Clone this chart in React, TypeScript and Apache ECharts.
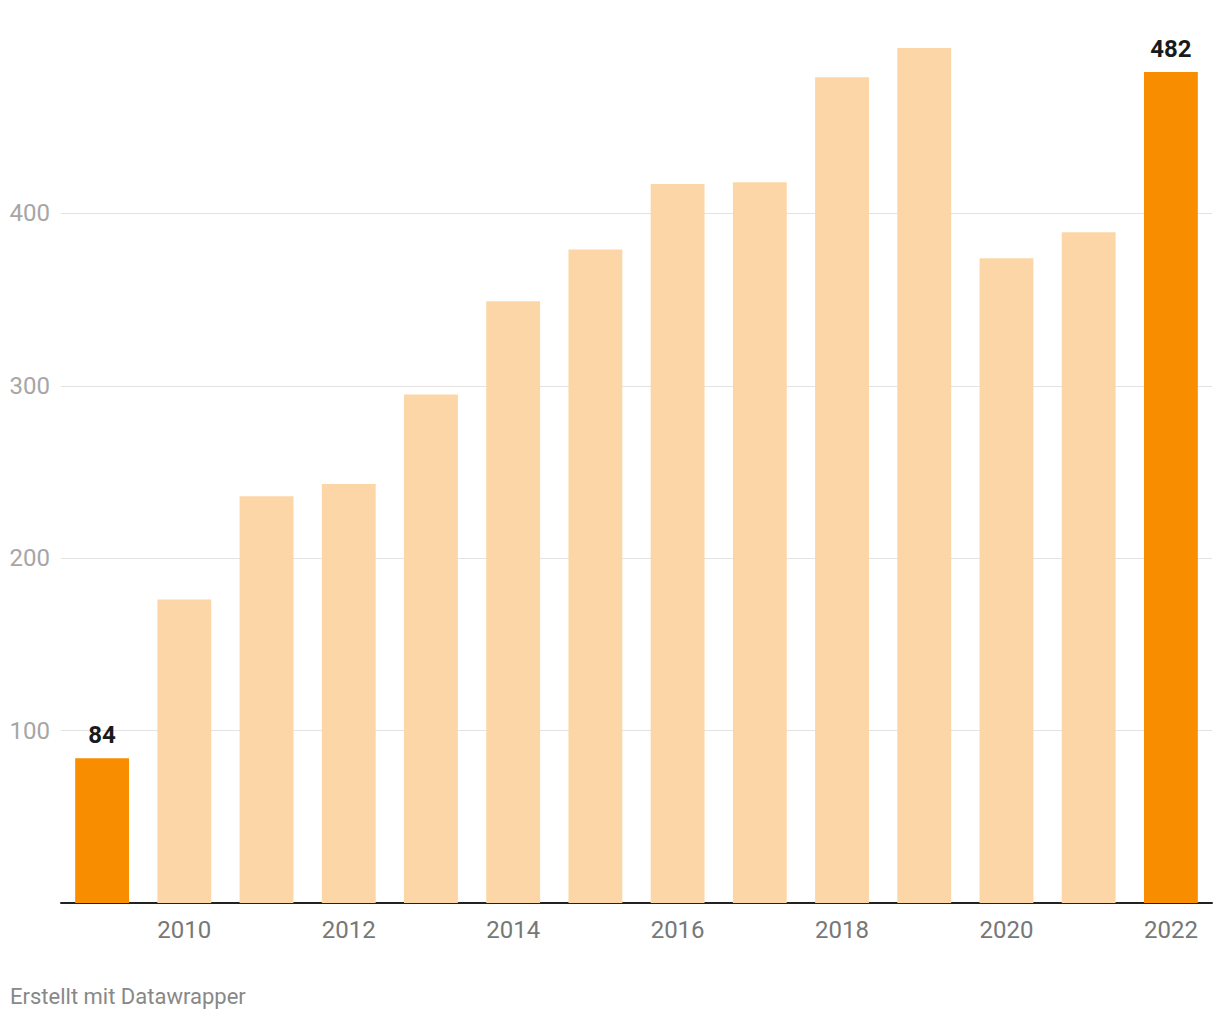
import React, { useEffect, useRef } from "react";
import * as echarts from "echarts";

const years = ["2009","2010","2011","2012","2013","2014","2015","2016","2017","2018","2019","2020","2021","2022"];
const values = [84, 176, 236, 243, 295, 349, 379, 417, 418, 479, 496, 374, 389, 482];
const highlighted = ["2009", "2022"];
const yTicks = [0, 100, 200, 300, 400, 500];

const DARK = "#f98d00";
const LIGHT = "#fcd6a6";

export default function App() {
  const ref = useRef<HTMLDivElement>(null);
  useEffect(() => {
    const chart = echarts.init(ref.current!, null, { renderer: "svg" });
    chart.setOption({
      animation: false,
      backgroundColor: "#ffffff",
      textStyle: { fontFamily: "Roboto" },
      grid: { left: 61, right: 8, top: 41, bottom: 117, containLabel: false },
      xAxis: {
        type: "category",
        data: years,
        axisLine: { show: true, lineStyle: { color: "#222222", width: 2 } },
        axisTick: { show: false },
        axisLabel: {
          interval: (idx: number) => idx % 2 === 1,
          color: "#777777",
          fontSize: 24,
          margin: 15,
          fontFamily: "Roboto",
        },
      },
      yAxis: {
        type: "value",
        min: yTicks[0],
        max: yTicks[yTicks.length - 1],
        interval: 100,
        axisLine: { show: false },
        axisTick: { show: false },
        axisLabel: {
          color: "#a6a6a6",
          fontSize: 24,
          margin: 11,
          fontFamily: "Roboto",
          formatter: (v: number) => (v === 0 || v === 500 ? "" : String(v)),
        },
        splitLine: {
          show: true,
          lineStyle: {
            color: ["rgba(0,0,0,0)", "#e3e3e3", "#e3e3e3", "#e3e3e3", "#e3e3e3", "rgba(0,0,0,0)"],
            width: 1,
          },
        },
      },
      series: [
        {
          type: "bar",
          barCategoryGap: "34.5%",
          data: values.map((v, i) => {
            const hl = highlighted.includes(years[i]);
            return {
              value: v,
              itemStyle: { color: hl ? DARK : LIGHT },
              label: {
                show: hl,
                position: "top",
                distance: 11,
                color: "#1a1a1a",
                fontWeight: "bold",
                fontSize: 24,
                fontFamily: "Roboto",
              },
            };
          }),
        },
      ],
      graphic: [
        {
          type: "text",
          left: 10,
          top: 985,
          style: {
            text: "Erstellt mit Datawrapper",
            fill: "#888888",
            fontSize: 22,
            fontFamily: "Roboto",
          },
        },
      ],
    });
    return () => chart.dispose();
  }, []);
  return (
    <div
      ref={ref}
      style={{ position: "fixed", left: 0, top: 0, width: 1220, height: 1020 }}
    />
  );
}
